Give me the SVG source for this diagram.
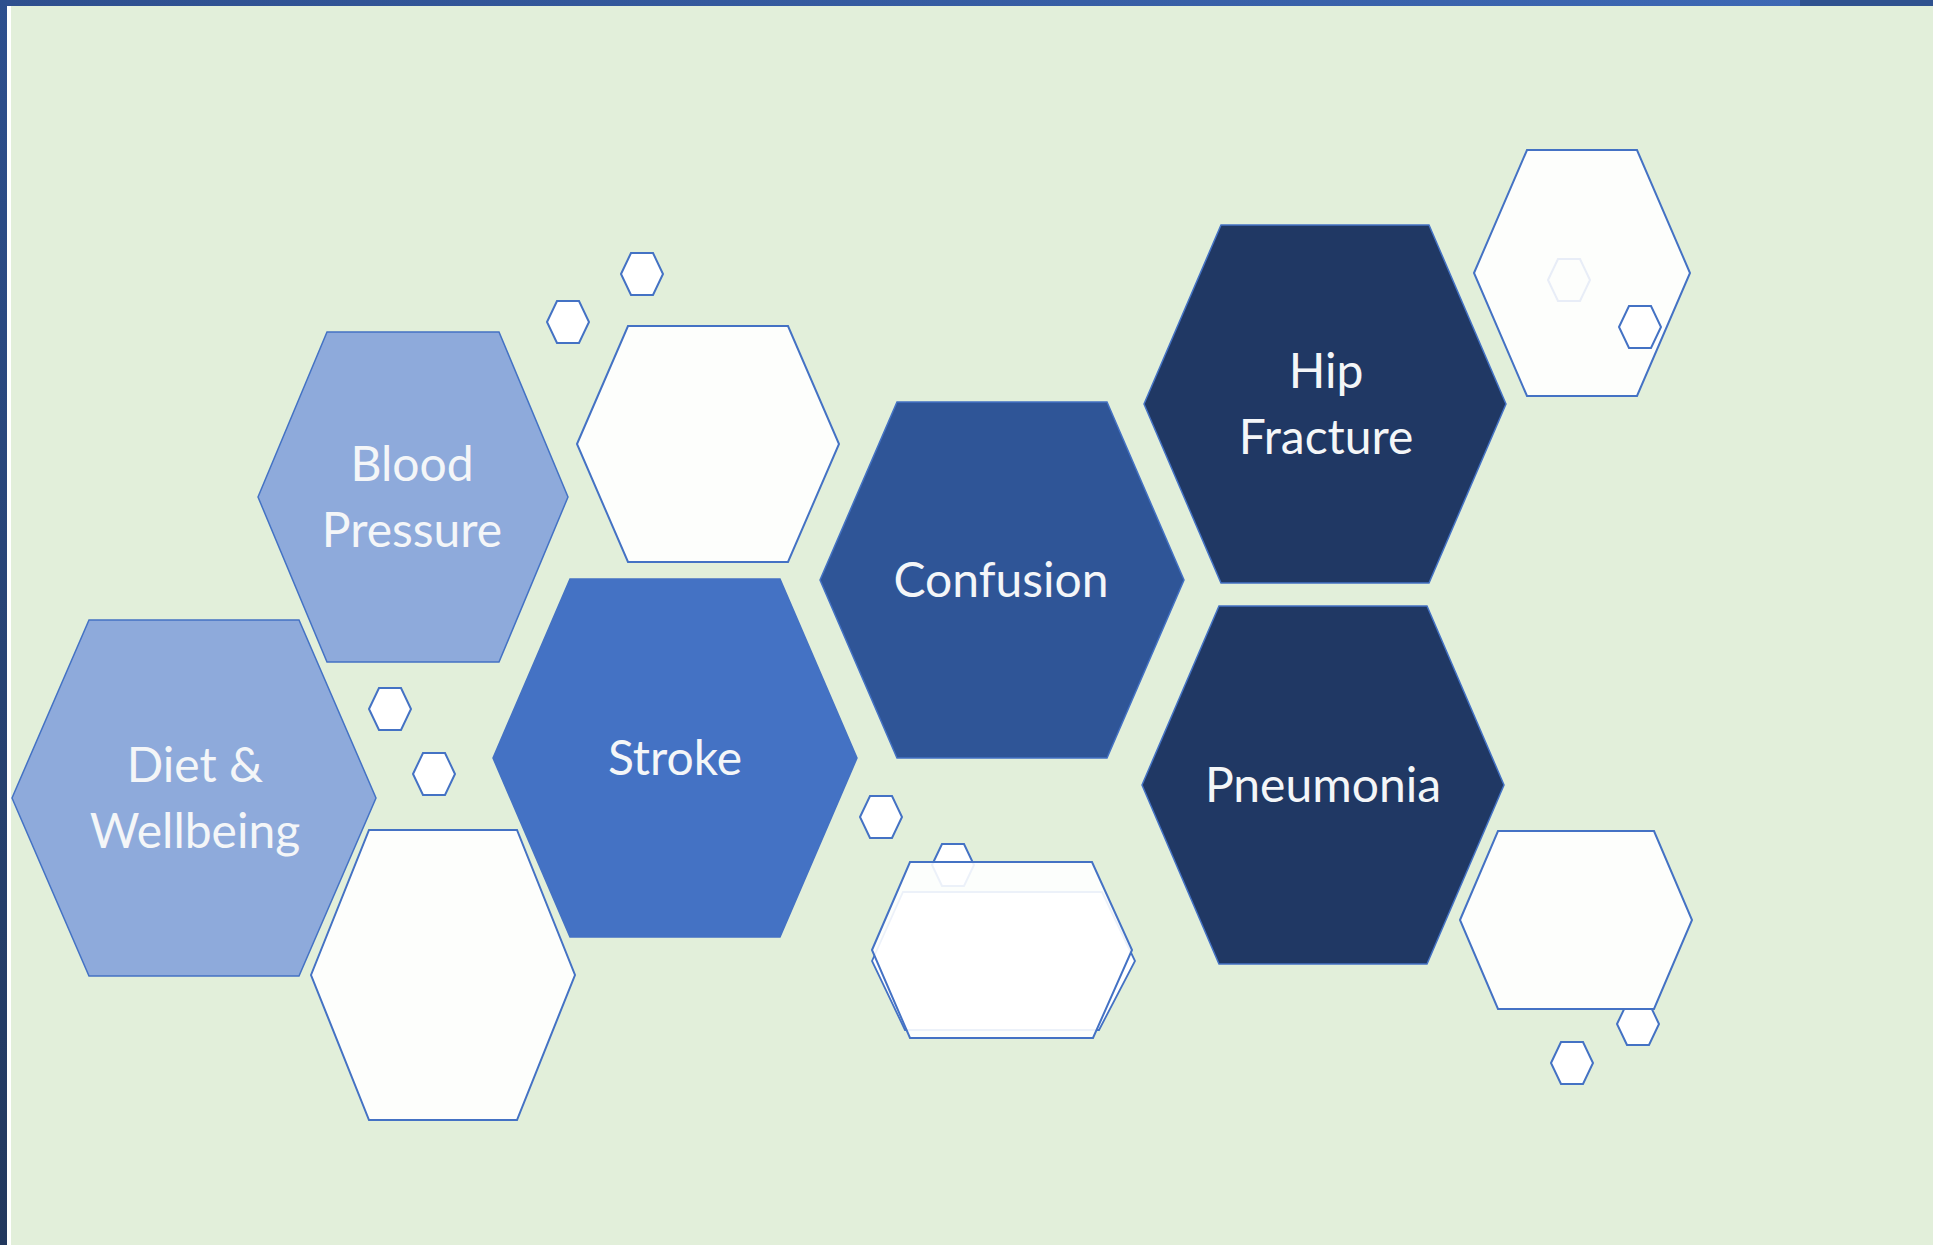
<svg xmlns="http://www.w3.org/2000/svg" xmlns:xlink="http://www.w3.org/1999/xlink" width="1933" height="1245" viewBox="0 0 1933 1245">
<defs>
<linearGradient id="topbar" x1="0" y1="0" x2="1" y2="0">
<stop offset="0" stop-color="#2e4f8e"/>
<stop offset="1" stop-color="#3d68b4"/>
</linearGradient>
<linearGradient id="leftbar" x1="0" y1="0" x2="0" y2="1">
<stop offset="0" stop-color="#2d4f8e"/>
<stop offset="1" stop-color="#22385e"/>
</linearGradient>
<path id="small" d="M-21,0 L-11,-21 L11,-21 L21,0 L11,21 L-11,21 Z"/>
<style>
.bg{fill:#e2efda}
.hex{stroke:#4472c4;stroke-width:1.5}
.light{fill:#8eaadb}
.mid{fill:#4472c4}
.deep{fill:#2f5597}
.dark{fill:#203864}
.blank{fill:#fdfefc;stroke:#4472c4;stroke-width:2}
.sm{fill:#ffffff;stroke:#4472c4;stroke-width:2}
.lbl{font-family:Lato,"Liberation Sans",sans-serif;font-size:48px;fill:#f4f6f8;text-anchor:middle}
</style>
</defs>
<rect class="bg" x="0" y="0" width="1933" height="1245"/>
<rect x="0" y="0" width="1800" height="6" fill="url(#topbar)"/>
<rect x="1800" y="0" width="133" height="6" fill="#2f528f"/>
<rect x="7" y="6" width="4" height="1239" fill="#ffffff"/>
<rect x="0" y="0" width="7" height="1245" fill="url(#leftbar)"/>

<g id="decor-w1"><polygon class="blank" points="577,444 628,326 788,326 839,444 788,562 628,562"/></g>
<g id="decor-w2"><polygon class="blank" points="311,975 369,830 517,830 575,975 517,1120 369,1120"/></g>
<g id="decor-w3"><polygon class="blank" points="1474,273 1527,150 1637,150 1690,273 1637,396 1527,396"/></g>
<g id="decor-s6"><use xlink:href="#small" class="sm" x="953" y="865"/></g>
<g id="decor-w5">
<polygon points="872,961 903,892 1102,892 1135,961 1099,1030 905,1030" fill="#ffffff" stroke="#4472c4" stroke-width="1.8"/>
<polygon points="872,950 910,862 1092,862 1132,950 1093,1038 910,1038" fill="#ffffff" fill-opacity="0.9" stroke="#4472c4" stroke-width="2"/>
</g>
<g id="decor-s9"><use xlink:href="#small" class="sm" x="1638" y="1024"/></g>
<g id="decor-w4"><polygon class="blank" points="1460,920 1498,831 1654,831 1692,920 1654,1009 1498,1009"/></g>

<g id="decor-small">
<use xlink:href="#small" class="sm" x="642" y="274"/>
<use xlink:href="#small" class="sm" x="568" y="322"/>
<use xlink:href="#small" class="sm" x="390" y="709"/>
<use xlink:href="#small" class="sm" x="434" y="774"/>
<use xlink:href="#small" class="sm" x="881" y="817"/>
<use xlink:href="#small" x="1569" y="280" fill="none" stroke="#e8edf7" stroke-width="2"/>
<use xlink:href="#small" class="sm" x="1640" y="327"/>
<use xlink:href="#small" class="sm" x="1572" y="1063"/>
</g>

<g id="node-diet">
<polygon class="hex light" points="12,798 89,620 299,620 376,798 299,976 89,976"/>
<text class="lbl" x="195" y="782">Diet &amp;</text>
<text class="lbl" x="195" y="848">Wellbeing</text>
</g>
<g id="node-blood-pressure">
<polygon class="hex light" points="258,497 327,332 499,332 568,497 499,662 327,662"/>
<text class="lbl" x="412" y="481">Blood</text>
<text class="lbl" x="412" y="547">Pressure</text>
</g>
<g id="node-stroke">
<polygon class="hex mid" points="493,758 570,579 780,579 857,758 780,937 570,937"/>
<text class="lbl" x="675" y="775">Stroke</text>
</g>
<g id="node-confusion">
<polygon class="hex deep" points="820,580 897,402 1107,402 1184,580 1107,758 897,758"/>
<text class="lbl" x="1001" y="597">Confusion</text>
</g>
<g id="node-hip-fracture">
<polygon class="hex dark" points="1144,404 1221,225 1429,225 1506,404 1429,583 1221,583"/>
<text class="lbl" x="1326" y="388">Hip</text>
<text class="lbl" x="1326" y="454">Fracture</text>
</g>
<g id="node-pneumonia">
<polygon class="hex dark" points="1142,785 1219,606 1427,606 1504,785 1427,964 1219,964"/>
<text class="lbl" x="1323" y="802">Pneumonia</text>
</g>
<g id="connectors"/>
</svg>
